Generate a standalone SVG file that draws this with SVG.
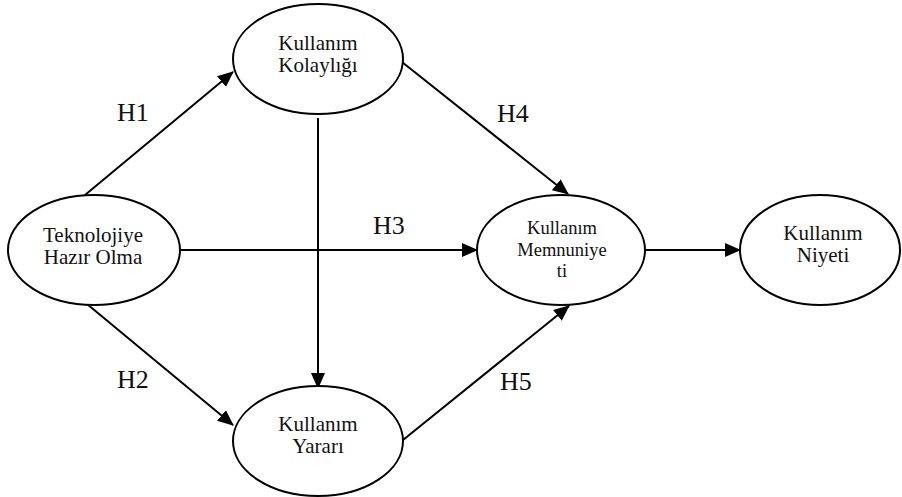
<svg xmlns="http://www.w3.org/2000/svg" width="902" height="497" viewBox="0 0 902 497">
<style>
text{font-family:"Liberation Serif","Times New Roman",serif !important;fill:#111}
.n{fill:#fff;stroke:#000;stroke-width:2}
.t{text-anchor:middle;font-size:21px}
.m{text-anchor:middle;font-size:18.5px}
.h{font-size:26px}
.c line{stroke:#000;stroke-width:2;marker-end:url(#a)}
</style>
<defs>
<marker id="a" markerUnits="userSpaceOnUse" markerWidth="16" markerHeight="14" refX="15" refY="7" orient="auto">
<path d="M0,0 L16,7 L0,14 Z" fill="#000"/>
</marker>
</defs>
<g class="c" id="connectors">
<line x1="85" y1="195" x2="233" y2="72"/>
<line x1="87" y1="304" x2="233" y2="425"/>
<line x1="318" y1="118" x2="318" y2="388"/>
<line x1="180" y1="250" x2="477" y2="250"/>
<line x1="402" y1="62" x2="568" y2="194"/>
<line x1="403" y1="440" x2="569" y2="306"/>
<line x1="645" y1="250" x2="740" y2="250"/>
</g>
<g id="teknolojiye">
<ellipse class="n" cx="94" cy="250" rx="86" ry="55"/>
<text class="t" x="93" y="242">Teknolojiye</text>
<text class="t" x="93" y="264">Hazır Olma</text>
</g>
<g id="kolayligi">
<ellipse class="n" cx="318" cy="59" rx="85" ry="55"/>
<text class="t" x="318" y="50">Kullanım</text>
<text class="t" x="318" y="72">Kolaylığı</text>
</g>
<g id="yarari">
<ellipse class="n" cx="318" cy="441" rx="85" ry="55"/>
<text class="t" x="318" y="431">Kullanım</text>
<text class="t" x="318" y="453">Yararı</text>
</g>
<g id="memnuniyet">
<ellipse class="n" cx="561" cy="250" rx="84" ry="55"/>
<text class="m" x="562" y="234">Kullanım</text>
<text class="m" x="562" y="256">Memnuniye</text>
<text class="m" x="562" y="277">ti</text>
</g>
<g id="niyeti">
<ellipse class="n" cx="820" cy="250" rx="80" ry="55"/>
<text class="t" x="823" y="240">Kullanım</text>
<text class="t" x="823" y="262">Niyeti</text>
</g>
<g id="labels">
<text class="h" x="117" y="121">H1</text>
<text class="h" x="117" y="388">H2</text>
<text class="h" x="373" y="234">H3</text>
<text class="h" x="497" y="122">H4</text>
<text class="h" x="500" y="390">H5</text>
</g>
</svg>
